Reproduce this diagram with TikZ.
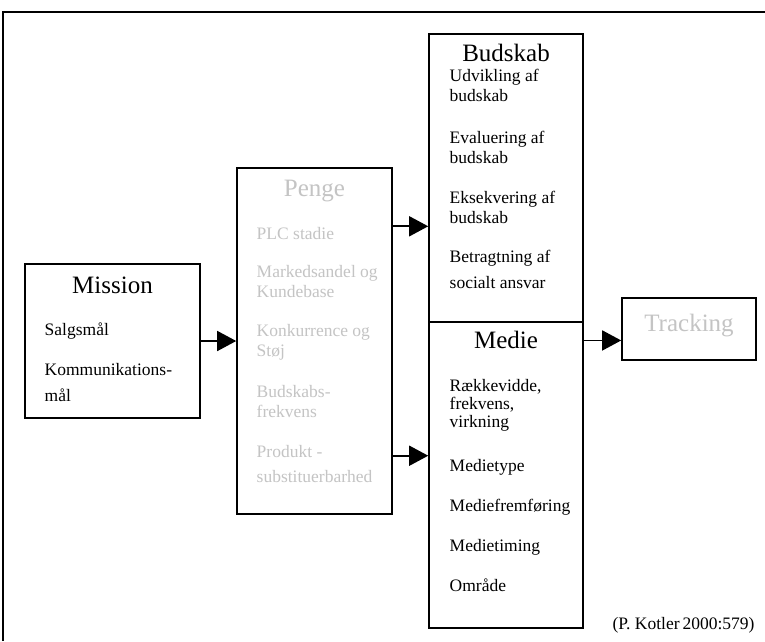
\documentclass[tikz,border=0pt]{standalone}
\usepackage{fontspec}
\setmainfont{Liberation Serif}
\usetikzlibrary{arrows.meta,positioning,calc}
\definecolor{faded}{HTML}{C4C4C4}
\definecolor{ink}{HTML}{000000}

\begin{document}
\begin{tikzpicture}[x=1pt, y=-1pt,
    box/.style={draw=ink, line width=1.6pt, fill=white, inner sep=0pt},
    head/.style={anchor=base, font=\fontsize{25}{28}\selectfont},
    item/.style={anchor=base west, align=left, font=\fontsize{17.5}{20}\selectfont},
    arr/.style={-{Triangle[length=19pt,width=20pt]}, line width=1.6pt, draw=ink}
  ]
  \useasboundingbox (0,0) rectangle (765,641);

  % frame (runs off the page at right and bottom)
  \draw[line width=1.6pt, draw=ink] (3,641) -- (3,12) -- (765,12);

  \node[box, minimum width=175pt, minimum height=154pt] (mission) at (112.5,341) {};
  \node[box, minimum width=155pt, minimum height=346pt] (penge) at (314.5,341) {};
  \node[box, minimum width=154pt, minimum height=288pt] (budskab) at (506,178) {};
  \node[box, minimum width=154pt, minimum height=306pt] (medie) at (506,475) {};
  \node[box, minimum width=134pt, minimum height=62pt] (track) at (689,329) {};

  % text blocks are anchored at the baseline of their last line
  \node[head] (mission-head) at ([yshift=-30pt]mission.north) {Mission};
  \node[item] (mission-txt) at ([xshift=17pt,yshift=-138pt]mission.north west)
    {Salgsmål\\[20pt]Kommunikations-\\[6pt]mål};

  \node[head, text=faded] (penge-head) at ([yshift=-29pt]penge.north) {Penge};
  \node[item, text=faded] (penge-txt) at ([xshift=17pt,yshift=-315pt]penge.north west)
    {PLC stadie\\[18pt]Markedsandel og\\Kundebase\\[19pt]Konkurrence og\\Støj\\[21pt]Budskabs-\\frekvens\\[20pt]Produkt -\\[5pt]substituerbarhed};

  \node[head] (budskab-head) at ([yshift=-28pt]budskab.north) {Budskab};
  \node[item] (budskab-txt) at ([xshift=18pt,yshift=-255pt]budskab.north west)
    {Udvikling af\\budskab\\[22pt]Evaluering af\\budskab\\[20pt]Eksekvering af\\budskab\\[19pt]Betragtning af\\[6pt]socialt ansvar};

  \node[head] (medie-head) at ([yshift=-27pt]medie.north) {Medie};
  \node[item] (medie-txt) at ([xshift=18pt,yshift=-270pt]medie.north west)
    {Rækkevidde,\\[-2pt]frekvens,\\[-2pt]virkning\\[24pt]Medietype\\[20pt]Mediefremføring\\[20pt]Medietiming\\[20pt]Område};

  \node[head, text=faded] (track-head) at ([yshift=-34pt]track.north) {Tracking};

  \node[item, anchor=base east] (source) at (758,629) {(P.~Kotler\,2000:579)};

  \coordinate (pg-hi) at ($(penge.north east)!0.17!(penge.south east)$);
  \coordinate (pg-lo) at ($(penge.north east)!0.83!(penge.south east)$);
  \coordinate (tr-in) at ($(track.north west)!0.68!(track.south west)$);

  \draw[arr] (mission.east) -- (mission.east -| penge.west);
  \draw[arr] (pg-hi) -- (pg-hi -| budskab.west);
  \draw[arr] (pg-lo) -- (pg-lo -| medie.west);
  \draw[arr] (tr-in -| medie.east) -- (tr-in);
\end{tikzpicture}
\end{document}
